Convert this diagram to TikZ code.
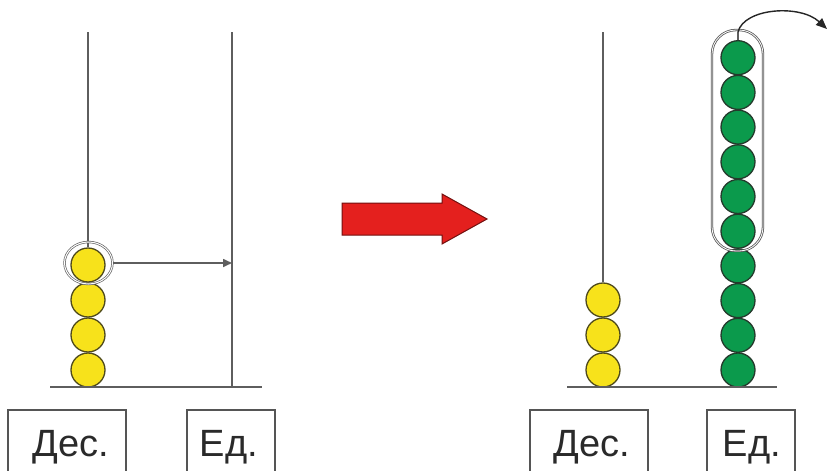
\documentclass[tikz,border=0pt]{standalone}
\usepackage{fontspec}
\setmainfont{Liberation Sans}
\usetikzlibrary{arrows.meta,shapes.geometric}
\definecolor{rodc}{HTML}{5E5E5E}
\definecolor{beady}{HTML}{F7E21B}
\definecolor{beadyd}{HTML}{4F4A1C}
\definecolor{beadg}{HTML}{0B9A4C}
\definecolor{beadgd}{HTML}{243A2C}
\definecolor{redar}{HTML}{E4201E}
\definecolor{txtc}{HTML}{2A2A2A}
\definecolor{boxc}{HTML}{555555}
\begin{document}
\begin{tikzpicture}[x=1pt,y=-1pt,
  rod/.style={draw=rodc,line width=2.1pt},
  base/.style={draw=rodc,line width=2.1pt},
  ybead/.style={circle,minimum size=34pt,inner sep=0pt,fill=beady,draw=beadyd,line width=1.3pt},
  gbead/.style={circle,minimum size=34pt,inner sep=0pt,fill=beadg,draw=beadgd,line width=1.3pt},
  lbox/.style={draw=boxc,line width=1.4pt},
  lbl/.style={anchor=base,text=txtc,font=\fontsize{38}{40}\selectfont,inner sep=0pt}]
\useasboundingbox (0,0) rectangle (828,471);
\fill[white] (0,0) rectangle (828,471);
% ---- left abacus ----
\coordinate (LrodTop) at (88,32);
\coordinate (RrodTop) at (232,32);
\coordinate (RrodBot) at (232,387);
\node[ybead] (y1) at (88,370) {};
\node[ybead] (y2) at (88,335) {};
\node[ybead] (y3) at (88,300) {};
\node[ybead] (y4) at (88,265) {};
\draw[rod] (LrodTop) -- (y4.north);
\draw[rod] (RrodTop) -- (RrodBot);
\draw[base] (50,387) -- (262,387);
\node[ellipse,draw=gray!80!black,line width=0.7pt,double=white,double distance=1pt,minimum width=48pt,minimum height=42pt] (sel) at (88.5,263) {};
\draw[draw=rodc,line width=1.6pt,-{Triangle[length=9pt,width=8pt]}] (sel.east) -- (RrodTop |- sel.east);
% labels left
\draw[lbox] (8,475) -- (8,410) -- (126,410) -- (126,475);
\draw[lbox] (187,475) -- (187,410) -- (275,410) -- (275,475);
\node[lbl] (d1) at (71,456) {Дес.};
\node[lbl] (e1) at (229,456) {Ед.};
% ---- red arrow ----
\draw[fill=redar,draw=redar!50!black,line width=1pt,line join=miter]
  (342,203) -- (442,203) -- (442,194) -- (487,219) -- (442,244) -- (442,235) -- (342,235) -- cycle;
% ---- right abacus ----
\node[ybead] (z1) at (603,370) {};
\node[ybead] (z2) at (603,335) {};
\node[ybead] (z3) at (603,300) {};
\draw[rod] (603,32) -- (z3.north);
\foreach \i in {0,...,9}{
  \node[gbead] (g\i) at (738,{370-34.7*\i}) {};
}
\coordinate (GTop) at (738,32);
\draw[rod] (GTop) -- (g9.north);
\draw[base] (567,387) -- (777,387);
\draw[draw=gray!70!black,line width=0.8pt,double=white,double distance=0.8pt,rounded corners=24pt] (712,30) rectangle (763,251);
\coordinate (ArrEnd) at (827,29);
\draw[draw=black!85,line width=1.4pt,-{Triangle[length=11pt,width=9pt]}] (GTop) .. controls (744,8) and (800,4) .. (ArrEnd);
% labels right
\draw[lbox] (530,475) -- (530,410) -- (648,410) -- (648,475);
\draw[lbox] (707,475) -- (707,410) -- (795,410) -- (795,475);
\node[lbl] (d2) at (592,456) {Дес.};
\node[lbl] (e2) at (752,456) {Ед.};
\end{tikzpicture}
\end{document}
